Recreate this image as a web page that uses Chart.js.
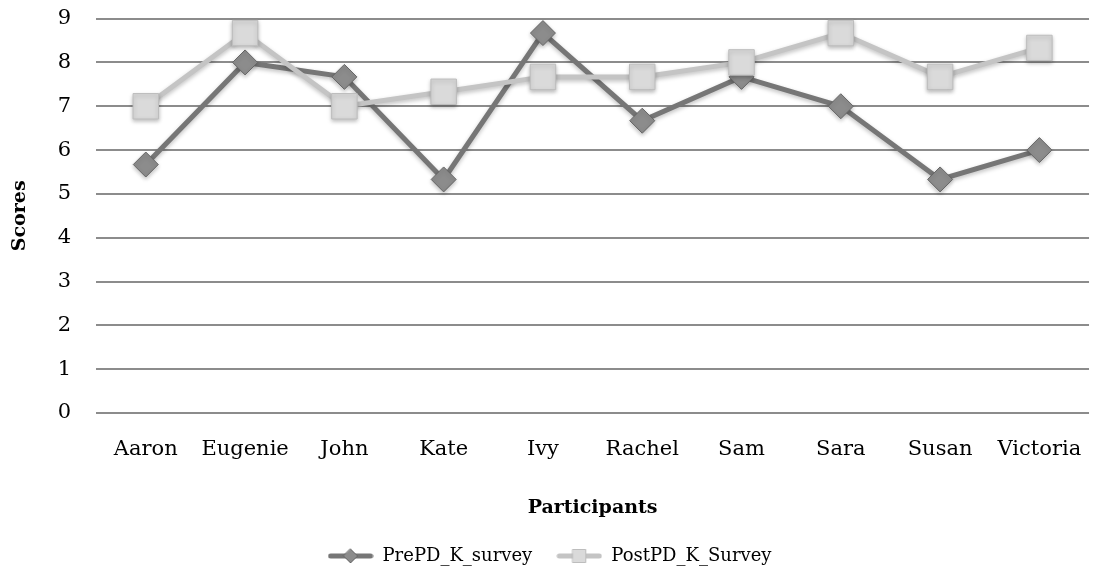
<!DOCTYPE html>
<html>
<head>
<meta charset="utf-8">
<script src="https://cdn.jsdelivr.net/npm/chart.js@4.4.0/dist/chart.umd.min.js"></script>
<style>
  body { margin: 0; background: #fff; }
</style>
</head>
<body>
<canvas id="myChart" width="1106" height="572"></canvas>
<script>
const participants = ["Aaron", "Eugenie", "John", "Kate", "Ivy", "Rachel", "Sam", "Sara", "Susan", "Victoria"];
const preScores = [5.67, 8, 7.67, 5.33, 8.67, 6.67, 7.67, 7, 5.33, 6];
const postScores = [7, 8.67, 7, 7.33, 7.67, 7.67, 8, 8.67, 7.67, 8.33];
const seriesNames = ["PrePD_K_survey", "PostPD_K_Survey"];

const FONT = "'DejaVu Serif', serif";

// little legend icon: line with the marker in the middle
function legendIcon(lineColor, fill, border, shape) {
  const c = document.createElement("canvas");
  c.width = 46; c.height = 20;
  const ctx = c.getContext("2d");
  ctx.strokeStyle = lineColor;
  ctx.lineWidth = 5;
  ctx.lineCap = "round";
  ctx.beginPath(); ctx.moveTo(3, 10); ctx.lineTo(43, 10); ctx.stroke();
  ctx.fillStyle = fill;
  ctx.strokeStyle = border;
  ctx.lineWidth = 1;
  ctx.beginPath();
  if (shape === "diamond") {
    ctx.moveTo(23, 3); ctx.lineTo(30, 10); ctx.lineTo(23, 17); ctx.lineTo(16, 10); ctx.closePath();
  } else {
    ctx.rect(16.5, 3.5, 13, 13);
  }
  ctx.fill(); ctx.stroke();
  return c;
}

const icons = [
  legendIcon("#767676", "#8c8c8c", "#666666", "diamond"),
  legendIcon("#c4c4c4", "#dadada", "#bdbdbd", "square")
];

const shadowPlugin = {
  id: "shadow",
  beforeDatasetDraw(chart) {
    const ctx = chart.ctx;
    ctx.save();
    ctx.shadowColor = "rgba(0,0,0,0.25)";
    ctx.shadowBlur = 4;
    ctx.shadowOffsetY = 2;
  },
  afterDatasetDraw(chart) {
    chart.ctx.restore();
  }
};

new Chart("myChart", {
  type: "line",
  data: {
    labels: participants,
    datasets: [{
      label: seriesNames[0],
      data: preScores,
      borderColor: "#767676",
      borderWidth: 5,
      pointStyle: "rectRot",
      pointRadius: 12.5,
      pointBackgroundColor: "#8c8c8c",
      pointBorderColor: "#666666",
      pointBorderWidth: 1,
      order: 1
    }, {
      label: seriesNames[1],
      data: postScores,
      borderColor: "#c4c4c4",
      borderWidth: 5,
      pointStyle: "rect",
      pointRadius: 18,
      pointBackgroundColor: "#dadada",
      pointBorderColor: "#bdbdbd",
      pointBorderWidth: 1,
      order: 0
    }]
  },
  options: {
    responsive: false,
    animation: false,
    layout: { autoPadding: false, padding: { left: 9, right: 16, top: 0, bottom: -3 } },
    scales: {
      x: {
        offset: true,
        grid: { display: false, drawTicks: false },
        border: { display: false },
        ticks: { color: "#000", font: { family: FONT, size: 21 }, padding: 24, maxRotation: 0, autoSkip: false },
        title: { display: true, text: "Participants", color: "#000", font: { family: FONT, size: 19, weight: "bold" }, padding: { top: 10, bottom: 4 } }
      },
      y: {
        min: 0,
        max: 9,
        // transparent tick marks push the labels away from the plot
        grid: { color: "#8c8c8c", lineWidth: 2, drawTicks: true, tickLength: 19, tickColor: "rgba(0,0,0,0)" },
        border: { display: false },
        ticks: { stepSize: 1, color: "#000", font: { family: FONT, size: 21 }, padding: 6 },
        title: { display: true, text: "Scores", color: "#000", font: { family: FONT, size: 19, weight: "bold" }, padding: { top: 0, bottom: 20 } }
      }
    },
    plugins: {
      tooltip: { enabled: false },
      legend: {
        position: "bottom",
        labels: {
          color: "#000",
          font: { family: FONT, size: 18 },
          usePointStyle: true,
          pointStyleWidth: 46,
          padding: 24,
          generateLabels(chart) {
            return chart.data.datasets.map((ds, i) => ({
              text: ds.label,
              pointStyle: icons[i],
              fontColor: "#000",
              datasetIndex: i,
              hidden: false
            }));
          }
        }
      }
    }
  },
  plugins: [shadowPlugin]
});
</script>
</body>
</html>
